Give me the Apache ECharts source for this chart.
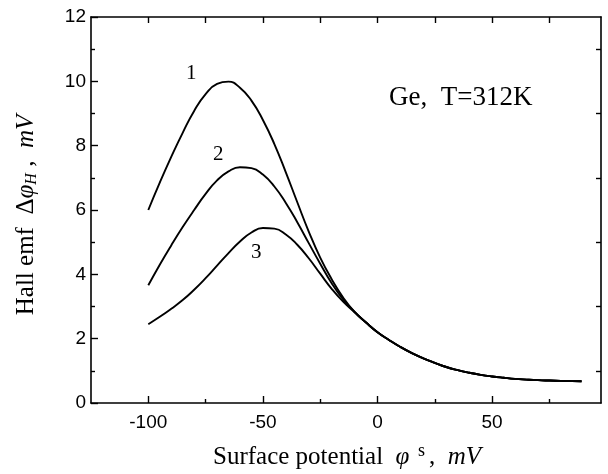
<!DOCTYPE html>
<html>
<head>
<meta charset="utf-8">
<script src="https://cdn.jsdelivr.net/npm/echarts@6/dist/echarts.min.js"></script>
<style>
html,body{margin:0;padding:0;background:#fff;}
#chart{width:608px;height:474px;}
</style>
</head>
<body>
<div id="chart"></div>
<script>
// Surface potential (mV)
const potential = [-100,-95,-90,-85,-80,-75,-70,-65,-60,-55,-50,-45,-40,-35,-30,-25,-20,-15,-10,-5,0,5,10,15,20,25,30,35,40,45,50,55,60,65,70,75,80,85,89];
// Hall emf (mV), curves 1, 2, 3
const hall1 = [6.0,6.85,7.65,8.4,9.08,9.6,9.92,9.99,9.8,9.4,8.8,8.05,7.17,6.24,5.33,4.52,3.85,3.28,2.83,2.5,2.2,1.96,1.74,1.55,1.39,1.25,1.12,1.02,0.94,0.875,0.825,0.785,0.75,0.728,0.71,0.698,0.688,0.68,0.675];
const hall2 = [3.66,4.3,4.9,5.47,6.0,6.5,6.92,7.2,7.33,7.3,7.1,6.73,6.22,5.62,4.97,4.33,3.72,3.22,2.83,2.5,2.2,1.96,1.74,1.55,1.39,1.25,1.12,1.02,0.94,0.875,0.825,0.785,0.75,0.728,0.71,0.698,0.688,0.68,0.675];
const hall3 = [2.45,2.68,2.93,3.2,3.52,3.88,4.27,4.66,5.02,5.3,5.44,5.42,5.24,4.92,4.5,4.02,3.55,3.15,2.82,2.5,2.2,1.96,1.74,1.55,1.39,1.25,1.12,1.02,0.94,0.875,0.825,0.785,0.75,0.728,0.71,0.698,0.688,0.68,0.675];
const curveNames = ['1','2','3'];
// Tick values
const xMajor = [-100,-50,0,50];
const xMinor = [-75,-25,25,75];
const xAll = [-100,-75,-50,-25,0,25,50,75];
const yMajor = [0,2,4,6,8,10,12];
const yMinor = [1,3,5,7,9,11];

const serif = '"Liberation Serif","Times New Roman",serif';
const sans = '"Liberation Sans",Arial,sans-serif';

const chart = echarts.init(document.getElementById('chart'), null, {renderer:'canvas'});

const lineStyleAxis = {color:'#000', width:1.6};
function xAx(pos, ticks, len, showLine, labels){
  return {
    type:'value', position:pos, min:-125, max:97.5,
    axisLine:{show:showLine, onZero:false, lineStyle:lineStyleAxis},
    axisTick:{show:true, inside:true, length:len, customValues:ticks, lineStyle:{color:'#000', width:1.4}},
    axisLabel: labels ? {show:true, customValues:labels, color:'#000', fontSize:19, fontFamily:sans, margin:10} : {show:false},
    splitLine:{show:false}
  };
}
function yAx(pos, ticks, len, showLine, labels){
  return {
    type:'value', position:pos, min:0, max:12,
    axisLine:{show:showLine, onZero:false, lineStyle:lineStyleAxis},
    axisTick:{show:true, inside:true, length:len, customValues:ticks, lineStyle:{color:'#000', width:1.4}},
    axisLabel: labels ? {show:true, customValues:labels, color:'#000', fontSize:19, fontFamily:sans, margin:5} : {show:false},
    splitLine:{show:false}
  };
}

const datasets = [hall1, hall2, hall3];
const series = datasets.map((arr, i) => ({
  name: curveNames[i],
  type:'line',
  xAxisIndex:0, yAxisIndex:0,
  data: potential.map((x, j) => [x, arr[j]]),
  smooth:0.5,
  symbol:'none',
  lineStyle:{color:'#000', width:1.9},
  z: 3
}));

chart.setOption({
  animation:false,
  backgroundColor:'#fff',
  grid:{left:91, top:17, width:510, height:386, containLabel:false},
  xAxis:[
    xAx('bottom', xMajor, 7, true, xMajor),
    xAx('bottom', xMinor, 4, false, null),
    xAx('top', xAll, 6, true, null)
  ],
  yAxis:[
    yAx('left', yMajor, 7, true, yMajor),
    yAx('left', yMinor, 4, false, null),
    yAx('right', yMinor, 5, true, null)
  ],
  series: series,
  graphic:[
    {type:'text', left:186, top:63, style:{text:curveNames[0], font:'21px '+serif, fill:'#000'}},
    {type:'text', left:213, top:144, style:{text:curveNames[1], font:'21px '+serif, fill:'#000'}},
    {type:'text', left:251, top:242, style:{text:curveNames[2], font:'21px '+serif, fill:'#000'}},
    {type:'text', left:389, top:84, style:{text:'Ge,  T=312K', font:'27px '+serif, fill:'#000'}},
    {type:'text', x:347, y:457, style:{
      text:'{a|Surface potential  }{i|φ}{sup| s}{a|,  }{i|mV}',
      align:'center', verticalAlign:'middle',
      rich:{
        a:{fontFamily:serif, fontSize:25, fill:'#000'},
        i:{fontFamily:serif, fontSize:25, fontStyle:'italic', fill:'#000'},
        sup:{fontFamily:serif, fontSize:18, fill:'#000', padding:[0,4,12,4]}
      }
    }},
    {type:'text', x:26, y:215, rotation:Math.PI/2, style:{
      text:'{a|Hall emf  Δ}{i|φ}{sub|H}{a| ,  }{i|mV}',
      align:'center', verticalAlign:'middle',
      rich:{
        a:{fontFamily:serif, fontSize:25, fill:'#000'},
        i:{fontFamily:serif, fontSize:25, fontStyle:'italic', fill:'#000'},
        sub:{fontFamily:serif, fontSize:16, fontStyle:'italic', fill:'#000', padding:[12,0,0,0]}
      }
    }}
  ]
});
</script>
</body>
</html>
